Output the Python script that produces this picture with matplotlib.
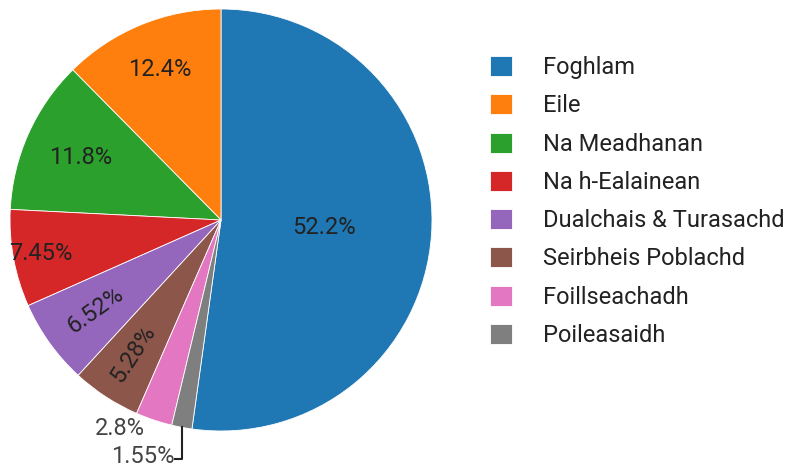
import numpy as np
import matplotlib.pyplot as plt

plt.rcParams['font.family'] = ['Roboto', 'DejaVu Sans']

# data, in legend order (largest first)
categories = ['Foghlam', 'Eile', 'Na Meadhanan', 'Na h-Ealainean',
              'Dualchais & Turasachd', 'Seirbheis Poblachd', 'Foillseachadh', 'Poileasaidh']
shares = [52.2, 12.4, 11.8, 7.45, 6.52, 5.28, 2.8, 1.55]
pct_labels = ['52.2%', '12.4%', '11.8%', '7.45%', '6.52%', '5.28%', '2.8%', '1.55%']
colours = ['#1f77b4', '#ff7f0e', '#2ca02c', '#d62728',
           '#9467bd', '#8c564b', '#e377c2', '#7f7f7f']

W, H = 790, 467
fig = plt.figure(figsize=(W / 100, H / 100), dpi=100)
cx, cy, R = 221, 220, 211
ax = fig.add_axes([(cx - R) / W, (H - cy - R) / H, 2 * R / W, 2 * R / H])

fs = 17
start = 90 - shares[0] / 100 * 360
wedges, _ = ax.pie(shares, colors=colours, startangle=start, counterclock=True,
                   radius=1, wedgeprops=dict(edgecolor='white', linewidth=0.6))
ax.set_xlim(-1, 1)
ax.set_ylim(-1, 1)
ax.set_aspect('equal')
ax.axis('off')

# label placement: radius fraction, rotate radially?
lab_r = [0.49, 0.77, 0.73, 0.87, 0.73, 0.76, None, None]
rot = [False, False, False, False, True, True, False, False]
for i, w in enumerate(wedges):
    mid = np.deg2rad((w.theta1 + w.theta2) / 2)
    if lab_r[i] is not None:
        x, y = lab_r[i] * np.cos(mid), lab_r[i] * np.sin(mid)
        angle = np.rad2deg(mid) - 180 if rot[i] else 0
        ax.text(x, y, pct_labels[i], ha='center', va='center', fontsize=fs,
                color='#222222', rotation=angle, rotation_mode='anchor')

# outside labels
w = wedges[6]
mid = np.deg2rad((w.theta1 + w.theta2) / 2)
ax.text(1.01 * np.cos(mid) - 0.04, 1.01 * np.sin(mid) - 0.03, pct_labels[6],
        ha='right', va='center', fontsize=fs, color='#444444', clip_on=False)
w = wedges[7]
mid = np.deg2rad((w.theta1 + w.theta2) / 2)
x0, y0 = np.cos(mid), np.sin(mid)
y1 = y0 - 0.15
ax.plot([x0, x0, x0 - 0.03], [y0, y1, y1], color='#222222', lw=1.5, clip_on=False)
ax.text(x0 - 0.035, y1 + 0.012, pct_labels[7], ha='right', va='center', fontsize=fs,
        color='#444444', clip_on=False)

fig.legend(wedges, categories, loc='upper left',
           bbox_to_anchor=(490 / W, 1 - 56 / H), frameon=False, fontsize=fs,
           handlelength=0.93, handleheight=0.93, labelspacing=0.64,
           handletextpad=1.3, borderpad=0, borderaxespad=0, labelcolor='#222222')

fig.savefig('out.png', dpi=100)
